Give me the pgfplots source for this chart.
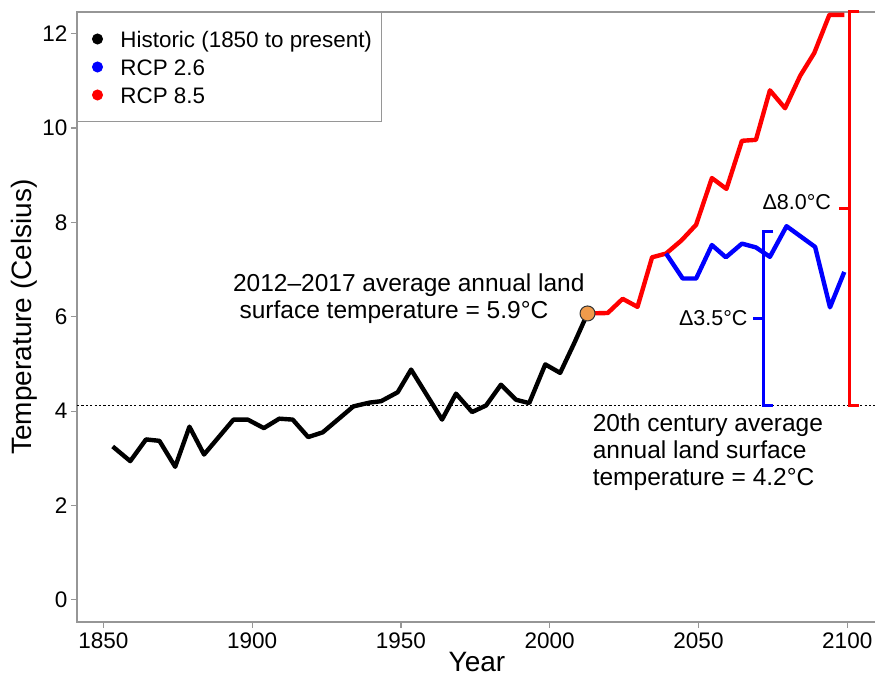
\documentclass[border=0pt]{standalone}
\usepackage{pgfplots}
\pgfplotsset{compat=1.18}
\usepackage{fontspec}
\setmainfont{Liberation Sans}
\definecolor{axgray}{RGB}{150,150,150}
\definecolor{dotorange}{RGB}{240,155,75}
\begin{document}
\begin{tikzpicture}
\begin{axis}[
  at={(0pt,0pt)}, anchor=south west,
  scale only axis, width=800pt, height=610pt,
  xmin=1841.1, xmax=2110, ymin=-0.47, ymax=12.46,
  clip=false,
  xtick={1850,1900,...,2100}, ytick={0,2,...,12},
  tick pos=left, tick align=outside, major tick length=6pt,
  tick style={axgray, line width=1.2pt},
  axis line style={axgray, line width=1.3pt},
  xticklabel style={font=\fontsize{22.5}{25}\selectfont, /pgf/number format/1000 sep={}, yshift=-1pt},
  yticklabel style={font=\fontsize{22.5}{25}\selectfont},
  /pgf/number format/assume math mode=true,
  xlabel={Year}, ylabel={Temperature (Celsius)},
  label style={font=\fontsize{28}{32}\selectfont},
  xlabel style={yshift=3pt},
  ylabel style={yshift=-2pt},
  legend style={at={(0,1)}, anchor=north west, draw=axgray, line width=1pt,
    font=\fontsize{22.4}{26}\selectfont, inner xsep=10pt, inner ysep=13pt,
    row sep=1pt, cells={anchor=west},
    nodes={inner sep=0pt, text height=22pt, text depth=5pt}},
  legend image code/.code={\fill[#1] (0pt,0pt) circle (5pt); \path[draw=none,fill=none] (-10pt,0pt) -- (23pt,0pt);},
]
\addlegendimage{black}\addlegendentry{Historic (1850 to present)}
\addlegendimage{blue}\addlegendentry{RCP 2.6}
\addlegendimage{red}\addlegendentry{RCP 8.5}

% 20th century average
\addplot[forget plot, black, line width=1.8pt, dash pattern=on 2.2pt off 2.2pt] coordinates {(1841.1,4.12) (2110,4.12)};

% Historic
\addplot[forget plot, black, line width=4.4pt, line join=round] coordinates {
(1853.1,3.25) (1859.0,2.94) (1864.3,3.40) (1868.8,3.37) (1874.1,2.82) (1878.9,3.67)
(1883.8,3.08) (1893.7,3.82) (1898.5,3.82) (1903.9,3.64) (1909.1,3.84) (1913.6,3.82)
(1918.8,3.45) (1923.7,3.55) (1934.0,4.10) (1939.4,4.18) (1943.3,4.21) (1948.9,4.40)
(1953.4,4.88) (1963.8,3.82) (1968.5,4.37) (1973.9,3.98) (1978.6,4.12) (1983.6,4.56)
(1988.7,4.24) (1993.1,4.17) (1998.5,4.99) (2003.5,4.81) (2008.3,5.45) (2012.7,6.07)};

% RCP 8.5
\addplot[forget plot, red, line width=4.4pt, line join=round] coordinates {
(2012.7,6.07) (2019.5,6.08) (2024.5,6.38) (2029.5,6.21) (2034.4,7.26) (2039.1,7.34)
(2044.3,7.62) (2049.2,7.95) (2054.5,8.94) (2059.4,8.71) (2064.6,9.73) (2069.3,9.75)
(2074.0,10.80) (2079.1,10.42) (2084.2,11.11) (2088.9,11.59) (2094.0,12.40) (2099.0,12.40)};

% RCP 2.6
\addplot[forget plot, blue, line width=4.4pt, line join=round] coordinates {
(2039.1,7.34) (2044.7,6.81) (2049.2,6.81) (2054.5,7.52) (2059.2,7.26) (2064.6,7.55)
(2069.3,7.47) (2074.0,7.27) (2079.6,7.92) (2084.4,7.70) (2089.2,7.48) (2094.2,6.20) (2099.0,6.95)};

% brackets
\addplot[forget plot, blue, line width=3.2pt] coordinates {(2075.2,7.81) (2071.8,7.81) (2071.8,4.12) (2075.2,4.12)};
\addplot[forget plot, blue, line width=3.2pt] coordinates {(2068.4,5.97) (2071.8,5.97)};
\addplot[forget plot, red, line width=3.2pt] coordinates {(2104.1,12.47) (2100.7,12.47) (2100.7,4.12) (2104.1,4.12)};
\addplot[forget plot, red, line width=3.2pt] coordinates {(2097.3,8.30) (2100.7,8.30)};

% present point
\addplot[forget plot, only marks, mark=*, mark size=7.5pt, mark options={fill=dotorange, draw=black!80, line width=1pt}] coordinates {(2012.7,6.07)};

% annotations
\node[anchor=west, align=left, inner sep=0pt, font=\fontsize{24.5}{27.5}\selectfont] at (axis cs:1893.5,6.38)
  {2012–2017 average annual land\\\hspace*{6.5pt}surface temperature = 5.9°C};
\node[anchor=west, align=left, inner sep=0pt, font=\fontsize{24.5}{26.7}\selectfont] at (axis cs:2014.4,3.13)
  {20th century average\\annual land surface\\temperature = 4.2°C};
\node[anchor=east, inner sep=0pt, font=\fontsize{21.5}{24}\selectfont] at (axis cs:2066.5,5.98) {Δ3.5°C};
\node[anchor=east, inner sep=0pt, font=\fontsize{21.5}{24}\selectfont] at (axis cs:2094.6,8.42) {Δ8.0°C};
\end{axis}
\pgfresetboundingbox
\path[use as bounding box] (-77pt,-55pt) rectangle (798pt,622pt);
\end{tikzpicture}
\end{document}
